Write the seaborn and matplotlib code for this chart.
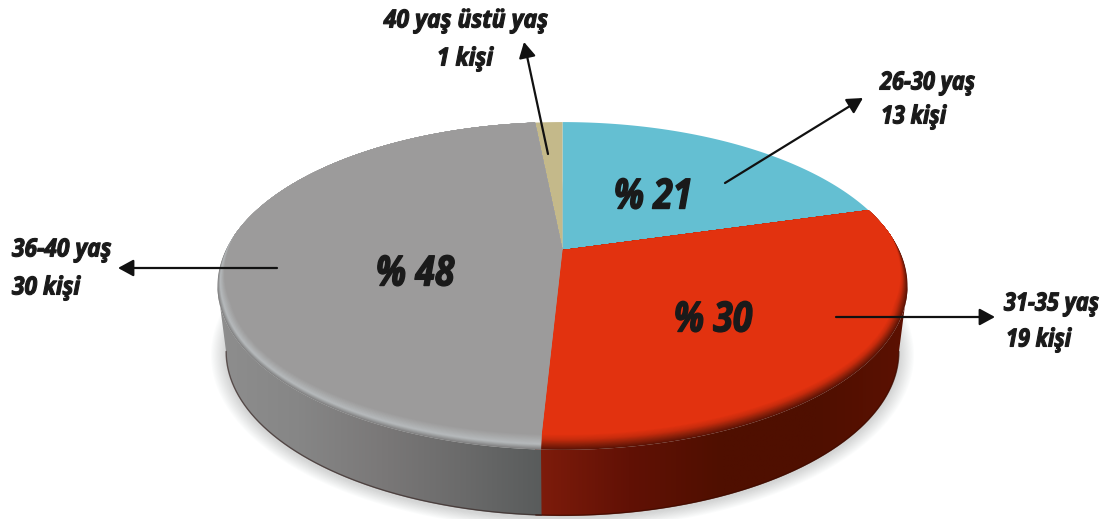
import numpy as np
import matplotlib
matplotlib.use("Agg")
import matplotlib.pyplot as plt
import matplotlib.patheffects as pe
from matplotlib.patches import Polygon
from matplotlib.transforms import Affine2D
import seaborn as sns

# ---- data ----
groups = ["26-30 yaş", "31-35 yaş", "36-40 yaş", "40 yaş üstü yaş"]
counts = [13, 19, 30, 1]
people = ["13 kişi", "19 kişi", "30 kişi", "1 kişi"]
percents = [21, 30, 48, 1]
top_colors = ["#64bfd2", "#e2320f", "#9c9b9b", "#c4b98a"]

sns.set_theme(style="white")
plt.rcParams["font.family"] = ["Open Sans", "DejaVu Sans"]

W, H = 1106, 519
fig = plt.figure(figsize=(W / 100, H / 100), dpi=100, facecolor="white")
ax = fig.add_axes([0, 0, 1, 1])

# perspective of the disc on the page
CX, CY = 562.5, 250.0
K, A, B = 0.2195, 156.0, 336.6
ELL_Y, RX, RY = 286.0, 345.0, 164.0
DEPTH, SHRINK = 66.0, 0.975
RIGHT_EXT = np.degrees(np.arccos(-K))
LEFT_EXT = 360 - RIGHT_EXT


def rim(theta_deg):
    t = np.radians(theta_deg)
    u, v = np.sin(t), np.cos(t)
    w = 1 + K * v
    return CX + B * u / w, CY - A * v / w


def base(theta_deg):
    x, y = rim(theta_deg)
    return CX + (x - CX) * SHRINK, y + DEPTH


edges = np.cumsum([0] + counts) / sum(counts) * 360
spans = list(zip(edges[:-1], edges[1:]))


def arc(lo, hi, n=300):
    return np.linspace(lo, hi, n)


class Condensed(pe.AbstractPathEffect):
    """Narrows text horizontally about a page x, and thickens it a little."""

    def __init__(self, sx, x0, lw=0.5):
        super().__init__()
        self.sx, self.x0, self.lw = sx, x0, lw

    def draw_path(self, renderer, gc, tpath, affine, rgbFace):
        squeezed = affine + Affine2D().translate(-self.x0, 0).scale(self.sx, 1).translate(self.x0, 0)
        gc0 = renderer.new_gc()
        gc0.copy_properties(gc)
        gc0.set_linewidth(self.lw)
        gc0.set_foreground(rgbFace)
        renderer.draw_path(gc0, tpath, squeezed, rgbFace)
        gc0.restore()


# soft shadow under the disc
full = np.linspace(0, 360, 500)
bx, by = base(full)
ecy = by.mean()
for i in range(14, 0, -1):
    sx = CX + (bx - CX) * (1 + i * 0.0032)
    sy = ecy + (by - ecy) * (1 + i * 0.0045) + 2
    ax.add_patch(Polygon(np.c_[sx, sy], closed=True, fc="#7f8080", ec="none", alpha=0.022, zorder=1))

# side walls: only the front part of each wedge shows
side_cmaps = {
    1: sns.blend_palette(["#7f1c0b", "#611105", "#4f0f00", "#4f0f00", "#5c1102"], as_cmap=True),
    2: sns.blend_palette(["#8e8e8e", "#868686", "#7a7878", "#6a6a6a", "#575a5a"], as_cmap=True),
}
side_ranges = {1: (535, 910), 2: (215, 550)}
for idx, cmap in side_cmaps.items():
    overlap = 0.8 if idx == 1 else 0.0
    lo, hi = max(spans[idx][0], RIGHT_EXT), min(spans[idx][1] + overlap, LEFT_EXT)
    th = arc(lo, hi)
    rx_, ry_ = rim(th)
    bx_, by_ = base(th)
    poly = Polygon(np.r_[np.c_[rx_, ry_], np.c_[bx_, by_][::-1]], closed=True, transform=ax.transData, fc="none", ec="none")
    ax.add_patch(poly)
    x0, x1 = side_ranges[idx]
    grad = np.linspace(0, 1, 256).reshape(1, -1)
    im = ax.imshow(grad, cmap=cmap, extent=(x0, x1, 519, 200), aspect="auto", zorder=2 + idx * 0.1, interpolation="bilinear")
    im.set_clip_path(poly)
    ax.plot(bx_, by_ - 0.5, color="#3a2a28" if idx == 2 else "#3d0b00", lw=1.0, alpha=0.7, zorder=3)

# top faces, with a bevel along the front rim
bevels = {
    1: sns.blend_palette(["#5c1305", "#8f210a", "#c72c0d", "#e2320f"], 18),
    2: sns.blend_palette(["#808080", "#b6babc", "#a9aaab", "#9c9b9b"], 18),
}
for i, (span, col) in enumerate(zip(spans, top_colors)):
    th = arc(*span)
    x, y = rim(th)
    if i in bevels:
        taper = np.clip((y - 235) / 70, 0, 1)
        nx, ny = (x - CX) / RX, (y - ELL_Y) / RY
        for j, c in enumerate(bevels[i]):
            d = j / (len(bevels[i]) - 1)
            xi = x - nx * 11 * d * taper
            yi = y - ny * 15 * d * taper
            ax.add_patch(Polygon(np.r_[[[CX, CY]], np.c_[xi, yi]], closed=True, fc=c, ec="none", zorder=4 + j * 0.01))
    else:
        ax.add_patch(Polygon(np.r_[[[CX, CY]], np.c_[x, y]], closed=True, fc=col, ec="none", zorder=4))

# text
style = dict(color="#1a1a1a", fontweight="bold", fontstyle="italic", zorder=8, va="center")
label_pos = [(880, 83, "left", 881, 117, "left", 0.87), (1099, 304, "right", 1006, 340, "left", 0.87),
             (12, 250, "left", 12, 288, "left", 0.91), (466, 21, "center", 465, 59, "center", 0.92)]
for g, p, (x1, y1, ha1, x2, y2, ha2, sq) in zip(groups, people, label_pos):
    ax.text(x1, y1, g, fontsize=18, ha=ha1, path_effects=[Condensed(sq, x1, 0.8)], **style)
    ax.text(x2, y2, p, fontsize=18, ha=ha2, path_effects=[Condensed(sq, x2, 0.8)], **style)

pct_pos = [(653, 198), (713, 321), (415, 275)]
for v, (x, y) in zip(percents, pct_pos):
    ax.text(x, y, f"% {v}", fontsize=30, ha="center", path_effects=[Condensed(0.85, x, 1.0)], **style)

# arrows
arrows = [((725, 183), (863, 98)), ((836, 317), (995, 317)), ((277, 268), (118, 268)), ((548, 154), (524, 42))]
for start, end in arrows:
    ax.annotate("", xy=end, xytext=start, zorder=9,
                arrowprops=dict(arrowstyle="-|>,head_length=0.55,head_width=0.3", color="#111111", lw=1.6,
                                mutation_scale=17, shrinkA=0, shrinkB=0))

ax.set_xlim(0, W)
ax.set_ylim(H, 0)
ax.axis("off")
fig.savefig("out.png", dpi=100, facecolor="white")
